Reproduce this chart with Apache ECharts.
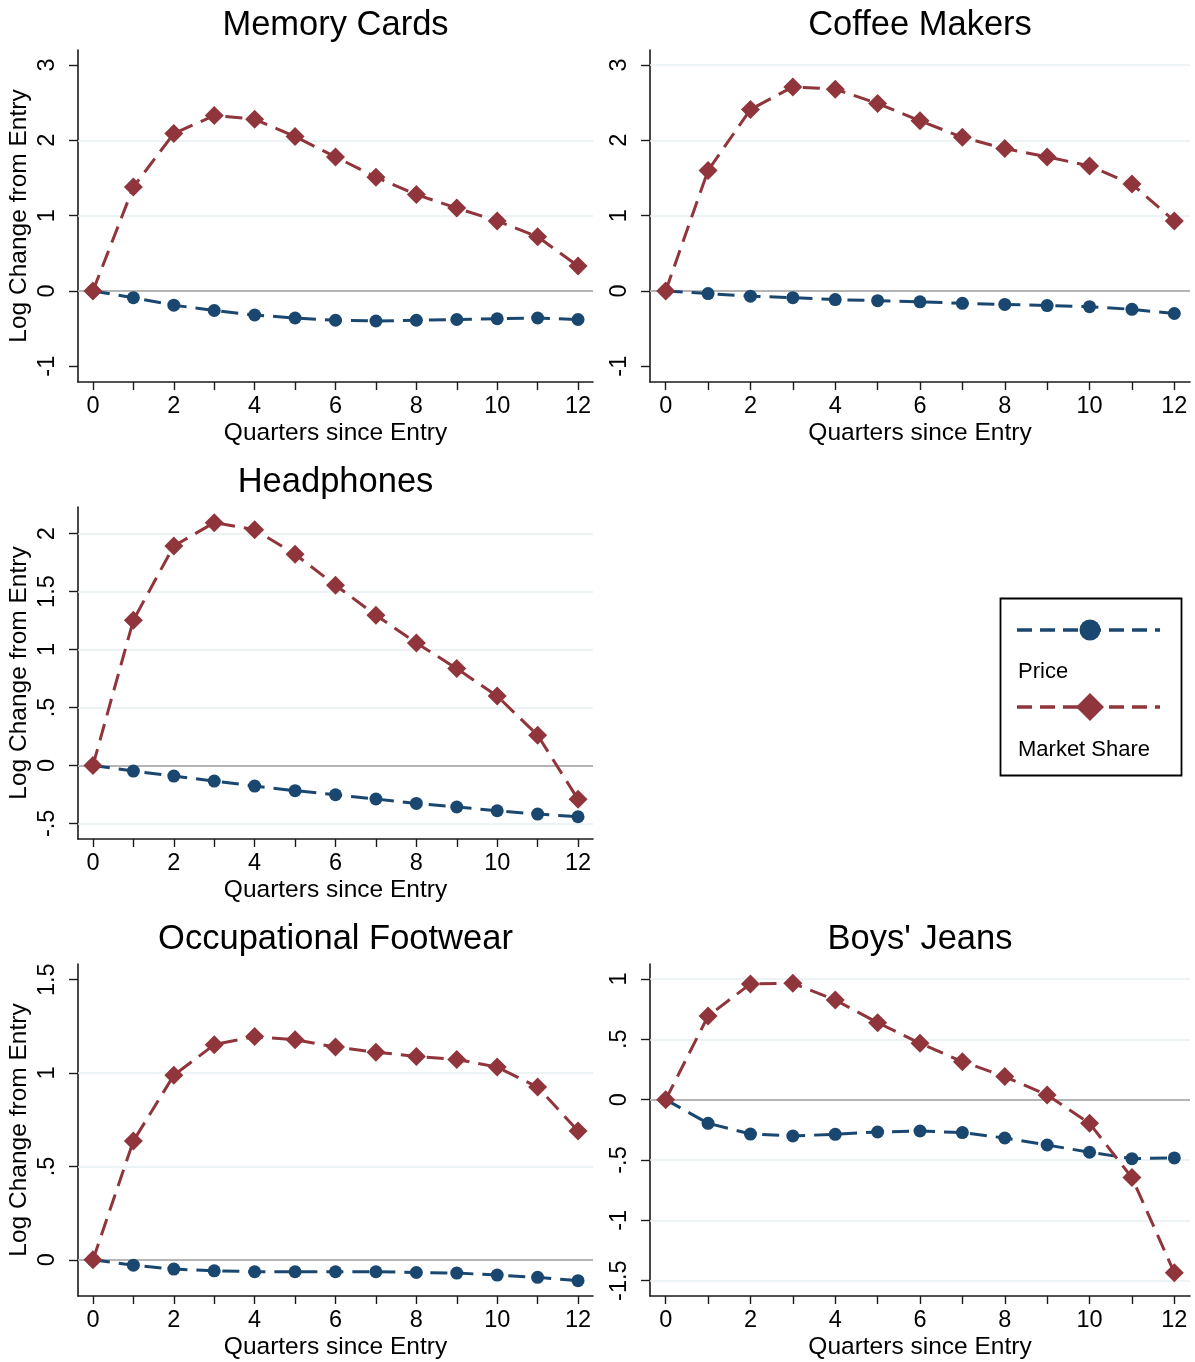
<!DOCTYPE html>
<html>
<head>
<meta charset="utf-8">
<title>Price and Market Share after Entry</title>
<script src="https://cdn.jsdelivr.net/npm/echarts@6/dist/echarts.min.js"></script>
<style>
  html, body { margin: 0; padding: 0; background: #ffffff; }
  #chart { width: 1195px; height: 1362px; }
</style>
</head>
<body>
<div id="chart"></div>
<script>
// Quarters since entry (x values shared by every panel)
const quarters = [0, 1, 2, 3, 4, 5, 6, 7, 8, 9, 10, 11, 12];
const xTickValues = [0, 1, 2, 3, 4, 5, 6, 7, 8, 9, 10, 11, 12];
const xLabelValues = [0, 2, 4, 6, 8, 10, 12];

// Memory Cards
const memoryPrice = [0, -0.09, -0.19, -0.26, -0.32, -0.36, -0.39, -0.40, -0.39, -0.38, -0.37, -0.36, -0.38];
const memoryShare = [0, 1.38, 2.09, 2.33, 2.28, 2.05, 1.78, 1.51, 1.28, 1.10, 0.93, 0.72, 0.33];
const memoryTicks = [-1, 0, 1, 2, 3];
const memoryGrid = [1, 2];

// Coffee Makers
const coffeePrice = [0, -0.035, -0.07, -0.09, -0.115, -0.13, -0.145, -0.165, -0.18, -0.195, -0.21, -0.245, -0.30];
const coffeeShare = [0, 1.60, 2.41, 2.71, 2.68, 2.49, 2.26, 2.04, 1.89, 1.78, 1.66, 1.42, 0.93];
const coffeeTicks = [-1, 0, 1, 2, 3];
const coffeeGrid = [1, 2, 3];

// Headphones
const headphonesPrice = [0, -0.049, -0.092, -0.135, -0.178, -0.218, -0.253, -0.290, -0.328, -0.359, -0.391, -0.420, -0.443];
const headphonesShare = [0, 1.253, 1.894, 2.095, 2.034, 1.822, 1.555, 1.296, 1.057, 0.836, 0.598, 0.261, -0.293];
const headphonesTicks = [-0.5, 0, 0.5, 1, 1.5, 2];
const headphonesGrid = [-0.5, 0.5, 1, 1.5, 2];

// Occupational Footwear
const footwearPrice = [0, -0.029, -0.050, -0.059, -0.064, -0.064, -0.064, -0.064, -0.068, -0.071, -0.082, -0.094, -0.112];
const footwearShare = [0, 0.636, 0.988, 1.152, 1.196, 1.178, 1.139, 1.112, 1.089, 1.073, 1.032, 0.925, 0.690];
const footwearTicks = [0, 0.5, 1, 1.5];
const footwearGrid = [0.5, 1];

// Boys' Jeans
const jeansPrice = [0, -0.196, -0.285, -0.301, -0.287, -0.268, -0.260, -0.273, -0.318, -0.376, -0.436, -0.489, -0.483];
const jeansShare = [0, 0.693, 0.959, 0.964, 0.826, 0.638, 0.467, 0.315, 0.191, 0.039, -0.196, -0.646, -1.434];
const jeansTicks = [-1.5, -1, -0.5, 0, 0.5, 1];
const jeansGrid = [-1.5, -1, -0.5, 0.5, 1];

const panelTitles = ['Memory Cards', 'Coffee Makers', 'Headphones', 'Occupational Footwear', "Boys' Jeans"];
const seriesNames = ['Price', 'Market Share'];
const yAxisTitle = 'Log Change from Entry';
const xAxisTitle = 'Quarters since Entry';

// Panel layout (pixels) and axis ranges
const layout = [
  { left: 78,  top: 50,  width: 515, height: 332, yMin: -1.21,  yMax: 3.2,   yName: true },
  { left: 650, top: 50,  width: 540, height: 332, yMin: -1.21,  yMax: 3.2,   yName: false },
  { left: 78,  top: 507, width: 515, height: 332, yMin: -0.635, yMax: 2.23,  yName: true },
  { left: 78,  top: 964, width: 515, height: 332, yMin: -0.194, yMax: 1.584, yName: true },
  { left: 650, top: 964, width: 540, height: 332, yMin: -1.627, yMax: 1.124, yName: false }
];

const panels = [
  { price: memoryPrice,     share: memoryShare,     ticks: memoryTicks,     grid: memoryGrid },
  { price: coffeePrice,     share: coffeeShare,     ticks: coffeeTicks,     grid: coffeeGrid },
  { price: headphonesPrice, share: headphonesShare, ticks: headphonesTicks, grid: headphonesGrid },
  { price: footwearPrice,   share: footwearShare,   ticks: footwearTicks,   grid: footwearGrid },
  { price: jeansPrice,      share: jeansShare,      ticks: jeansTicks,      grid: jeansGrid }
];

const FONT = '"Liberation Sans", Arial, Helvetica, sans-serif';
const NAVY = '#1a476f';
const MAROON = '#90353b';
const AXIS = '#1a1a1a';
const DASH = [17, 9];

// Stata-style numbers: ".5", "-.5", "1.5"
function fmt(v) {
  return String(v).replace(/^(-?)0\./, '$1.');
}

const option = {
  animation: false,
  backgroundColor: '#ffffff',
  textStyle: { fontFamily: FONT },
  title: [],
  grid: [],
  xAxis: [],
  yAxis: [],
  series: [],
  graphic: []
};

panels.forEach(function (p, i) {
  const L = layout[i];
  option.title.push({
    text: panelTitles[i],
    left: L.left + L.width / 2,
    top: L.top - 42,
    padding: 0,
    textAlign: 'center',
    textStyle: { fontFamily: FONT, fontSize: 34.5, fontWeight: 'normal', color: '#000' }
  });
  option.grid.push({ left: L.left, top: L.top, width: L.width, height: L.height, containLabel: false });
  option.xAxis.push({
    type: 'value',
    gridIndex: i,
    min: -0.37,
    max: 12.37,
    name: xAxisTitle,
    nameLocation: 'middle',
    nameGap: 39,
    nameTextStyle: { fontFamily: FONT, fontSize: 24.5, color: '#000' },
    axisLine: { show: true, onZero: false, lineStyle: { color: AXIS, width: 1.6 } },
    axisTick: { show: true, customValues: xTickValues, length: 8, lineStyle: { color: AXIS, width: 1.4 } },
    axisLabel: { customValues: xLabelValues, margin: 13, fontFamily: FONT, fontSize: 23.5, color: '#000' },
    splitLine: { show: false }
  });
  option.yAxis.push({
    type: 'value',
    gridIndex: i,
    min: L.yMin,
    max: L.yMax,
    name: L.yName ? yAxisTitle : '',
    nameLocation: 'middle',
    nameGap: 46,
    nameTextStyle: { fontFamily: FONT, fontSize: 24.5, color: '#000' },
    axisLine: { show: true, onZero: false, lineStyle: { color: AXIS, width: 1.6 } },
    axisTick: { show: true, customValues: p.ticks, length: 9, lineStyle: { color: AXIS, width: 1.4 } },
    axisLabel: {
      customValues: p.ticks, rotate: 90, margin: 18,
      fontFamily: FONT, fontSize: 23.5, color: '#000',
      formatter: fmt
    },
    splitLine: { show: false }
  });

  const gridLines = p.grid.map(function (v) {
    return { yAxis: v, lineStyle: { color: '#e6eff2', width: 1.6, type: 'solid' } };
  });
  gridLines.push({ yAxis: 0, lineStyle: { color: '#b5b5b5', width: 1.8, type: 'solid' } });

  option.series.push({
    name: seriesNames[0],
    type: 'line',
    xAxisIndex: i,
    yAxisIndex: i,
    z: 10,
    data: quarters.map(function (q, k) { return [q, p.price[k]]; }),
    symbol: 'circle',
    symbolSize: 13,
    lineStyle: { color: NAVY, width: 3, type: DASH },
    itemStyle: { color: NAVY },
    markLine: {
      silent: true,
      symbol: 'none',
      label: { show: false },
      z: 1,
      data: gridLines
    }
  });
  option.series.push({
    name: seriesNames[1],
    type: 'line',
    xAxisIndex: i,
    yAxisIndex: i,
    z: 11,
    data: quarters.map(function (q, k) { return [q, p.share[k]]; }),
    symbol: 'diamond',
    symbolSize: 19,
    lineStyle: { color: MAROON, width: 3, type: DASH },
    itemStyle: { color: MAROON }
  });
});

// Legend box in the empty cell
option.graphic = [
  { type: 'rect', shape: { x: 1000.5, y: 598.5, width: 181, height: 177 },
    style: { fill: '#ffffff', stroke: '#000000', lineWidth: 1.8 } },
  { type: 'line', shape: { x1: 1017, y1: 630, x2: 1160, y2: 630 },
    style: { stroke: NAVY, lineWidth: 3.6, lineDash: [15, 8] } },
  { type: 'circle', shape: { cx: 1090, cy: 630, r: 10.5 }, style: { fill: NAVY } },
  { type: 'text', x: 1018, y: 672, style: { text: seriesNames[0], font: '22px ' + FONT, fill: '#000', verticalAlign: 'middle' } },
  { type: 'line', shape: { x1: 1017, y1: 707, x2: 1160, y2: 707 },
    style: { stroke: MAROON, lineWidth: 3.6, lineDash: [15, 8] } },
  { type: 'polygon', shape: { points: [[1090, 693], [1104, 707], [1090, 721], [1076, 707]] }, style: { fill: MAROON } },
  { type: 'text', x: 1018, y: 750, style: { text: seriesNames[1], font: '22px ' + FONT, fill: '#000', verticalAlign: 'middle' } }
];

const chart = echarts.init(document.getElementById('chart'), null, { renderer: 'canvas' });
chart.setOption(option);
</script>
</body>
</html>
